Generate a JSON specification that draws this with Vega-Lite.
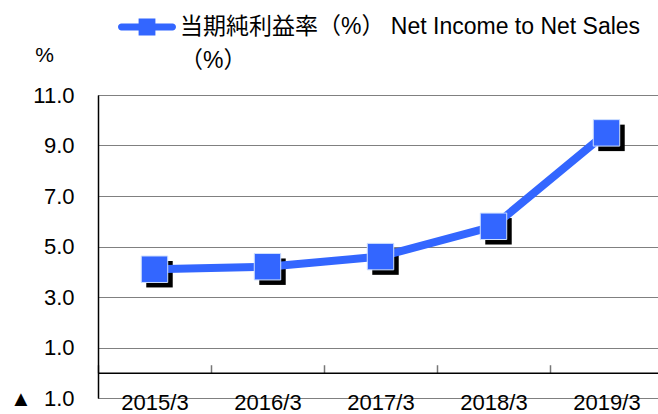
{
  "$schema": "https://vega.github.io/schema/vega-lite/v6.json",
  "width": 565,
  "height": 303,
  "autosize": "none",
  "padding": {"left": 98, "top": 95, "right": 0, "bottom": 16},
  "background": "white",
  "config": {
    "view": {"stroke": null},
    "font": "Liberation Sans, Arial, Noto Sans CJK JP",
    "style": {"guide-label": {"lineHeight": 34}}
  },
  "data": {
    "values": [
      {"year": "2015/3", "value": 4.1, "series": "当期純利益率（%） Net Income to Net Sales（%）"},
      {"year": "2016/3", "value": 4.2, "series": "当期純利益率（%） Net Income to Net Sales（%）"},
      {"year": "2017/3", "value": 4.6, "series": "当期純利益率（%） Net Income to Net Sales（%）"},
      {"year": "2018/3", "value": 5.8, "series": "当期純利益率（%） Net Income to Net Sales（%）"},
      {"year": "2019/3", "value": 9.5, "series": "当期純利益率（%） Net Income to Net Sales（%）"}
    ]
  },
  "encoding": {
    "x": {
      "field": "year",
      "type": "ordinal",
      "sort": null,
      "scale": {"type": "band", "paddingInner": 0, "paddingOuter": 0},
      "axis": {
        "orient": "bottom",
        "offset": -25.27,
        "title": null,
        "domain": true,
        "domainColor": "black",
        "domainWidth": 1.5,
        "ticks": true,
        "tickBand": "extent",
        "tickSize": -8,
        "tickColor": "#777777",
        "tickWidth": 1.5,
        "labelAngle": 0,
        "labelPadding": 27.5,
        "labelBaseline": "top",
        "labelFontSize": 22,
        "labelColor": "black",
        "grid": false
      }
    },
    "y": {
      "field": "value",
      "type": "quantitative",
      "scale": {"domain": [-1, 11], "nice": false, "zero": false},
      "axis": {
        "values": [-1, 1, 3, 5, 7, 9, 11],
        "grid": true,
        "gridDash": [1, 1],
        "gridColor": "black",
        "gridWidth": 1,
        "gridOpacity": 1,
        "ticks": false,
        "domain": true,
        "domainColor": "black",
        "domainWidth": 1.5,
        "labelFontSize": 22,
        "labelColor": "black",
        "labelPadding": 24,
        "labelExpr": "datum.value < 0 ? '▲\u00a0 ' + format(abs(datum.value), '.1f') : format(datum.value, '.1f')",
        "title": "%",
        "titleAngle": 0,
        "titleX": -54,
        "titleY": -40,
        "titleAlign": "center",
        "titleBaseline": "middle",
        "titleFontSize": 21,
        "titleFontWeight": "normal",
        "titleColor": "black"
      }
    }
  },
  "layer": [
    {
      "mark": {"type": "point", "shape": "square", "filled": true, "size": 700, "color": "black", "opacity": 1, "xOffset": 5, "yOffset": 5}
    },
    {
      "mark": {"type": "line", "strokeWidth": 8},
      "encoding": {
        "color": {
          "field": "series",
          "type": "nominal",
          "scale": {"range": ["#3366FF"]},
          "legend": {
            "orient": "none",
            "legendX": 20,
            "legendY": -97,
            "padding": 0,
            "title": null,
            "symbolType": "M-0.88,-0.12 L0.88,-0.12 A0.12,0.12 0 0 1 0.88,0.12 L-0.88,0.12 A0.12,0.12 0 0 1 -0.88,-0.12 Z M-0.29,-0.29 L0.29,-0.29 L0.29,0.29 L-0.29,0.29 Z",
            "symbolSize": 3364,
            "symbolFillColor": "#3366FF",
            "symbolStrokeWidth": 0,
            "symbolOpacity": 1,
            "labelFontSize": 23,
            "labelColor": "black",
            "labelOffset": 4,
            "labelLimit": 0,
            "labelExpr": "['当期純利益率（%） Net Income to Net Sales', '（%）']"
          }
        }
      }
    },
    {
      "mark": {"type": "point", "shape": "square", "filled": true, "size": 700, "color": "#3366FF", "opacity": 1, "stroke": "#cfe0ff", "strokeWidth": 1}
    }
  ]
}
